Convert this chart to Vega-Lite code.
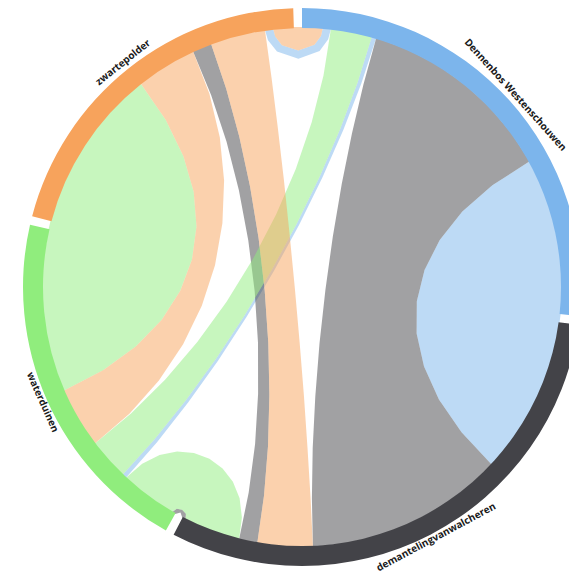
{
  "$schema": "https://vega.github.io/schema/vega-lite/v6.json",
  "width": 569,
  "height": 574,
  "padding": 0,
  "autosize": {"type": "none"},
  "background": "white",
  "config": {"view": {"stroke": null}},
  "datasets": {
    "nodes": [
      {"node": "Dennenbos Westenschouwen", "start": 0, "end": 96},
      {"node": "demantelingvanwalcheren", "start": 97.8, "end": 207.4},
      {"node": "waterduinen", "start": 209.2, "end": 282.9},
      {"node": "zwartepolder", "start": 284.7, "end": 358.2}
    ],
    "labels": [
      {"label": "Dennenbos Westenschouwen", "mid": 48, "side": "top"},
      {"label": "demantelingvanwalcheren", "mid": 151.8, "side": "bottom"},
      {"label": "waterduinen", "mid": 246.05, "side": "bottom"},
      {"label": "zwartepolder", "mid": 321.45, "side": "top"}
    ],
    "ribbons": [
      {"id": "b_d", "from": "Dennenbos Westenschouwen", "i": 0, "x": 227.6, "y": 125.7},
      {"id": "b_d", "from": "Dennenbos Westenschouwen", "i": 1, "x": 241.2, "y": 97.0},
      {"id": "b_d", "from": "Dennenbos Westenschouwen", "i": 2, "x": 251.3, "y": 66.9},
      {"id": "b_d", "from": "Dennenbos Westenschouwen", "i": 3, "x": 257.5, "y": 36.2},
      {"id": "b_d", "from": "Dennenbos Westenschouwen", "i": 4, "x": 260.0, "y": 4.5},
      {"id": "b_d", "from": "Dennenbos Westenschouwen", "i": 5, "x": 258.6, "y": -27.2},
      {"id": "b_d", "from": "Dennenbos Westenschouwen", "i": 6, "x": 257.6, "y": -35.3},
      {"id": "b_d", "from": "Dennenbos Westenschouwen", "i": 7, "x": 251.3, "y": -66.9},
      {"id": "b_d", "from": "Dennenbos Westenschouwen", "i": 8, "x": 241.2, "y": -97.0},
      {"id": "b_d", "from": "Dennenbos Westenschouwen", "i": 9, "x": 227.4, "y": -126.1},
      {"id": "b_d", "from": "Dennenbos Westenschouwen", "i": 10, "x": 210.4, "y": -152.8},
      {"id": "b_d", "from": "Dennenbos Westenschouwen", "i": 11, "x": 189.8, "y": -177.7},
      {"id": "b_d", "from": "Dennenbos Westenschouwen", "i": 12, "x": 159.5, "y": -145.3},
      {"id": "b_d", "from": "Dennenbos Westenschouwen", "i": 13, "x": 136.9, "y": -112.4},
      {"id": "b_d", "from": "Dennenbos Westenschouwen", "i": 14, "x": 122.0, "y": -79.4},
      {"id": "b_d", "from": "Dennenbos Westenschouwen", "i": 15, "x": 114.6, "y": -46.6},
      {"id": "b_d", "from": "Dennenbos Westenschouwen", "i": 16, "x": 114.8, "y": -14.3},
      {"id": "b_d", "from": "Dennenbos Westenschouwen", "i": 17, "x": 122.5, "y": 17.0},
      {"id": "b_d", "from": "Dennenbos Westenschouwen", "i": 18, "x": 137.7, "y": 47.0},
      {"id": "b_d", "from": "Dennenbos Westenschouwen", "i": 19, "x": 160.3, "y": 75.4},
      {"id": "b_d", "from": "Dennenbos Westenschouwen", "i": 20, "x": 190.3, "y": 101.7},

      {"id": "b_o", "from": "Dennenbos Westenschouwen", "i": 0, "x": 20.9, "y": 259.2},
      {"id": "b_o", "from": "Dennenbos Westenschouwen", "i": 1, "x": 29.0, "y": 258.4},
      {"id": "b_o", "from": "Dennenbos Westenschouwen", "i": 2, "x": 26.2, "y": 247.7},
      {"id": "b_o", "from": "Dennenbos Westenschouwen", "i": 3, "x": 17.6, "y": 236.0},
      {"id": "b_o", "from": "Dennenbos Westenschouwen", "i": 4, "x": -3.6, "y": 228.3},
      {"id": "b_o", "from": "Dennenbos Westenschouwen", "i": 5, "x": -25.0, "y": 235.4},
      {"id": "b_o", "from": "Dennenbos Westenschouwen", "i": 6, "x": -34.0, "y": 246.8},
      {"id": "b_o", "from": "Dennenbos Westenschouwen", "i": 7, "x": -37.1, "y": 257.3},
      {"id": "b_o", "from": "Dennenbos Westenschouwen", "i": 8, "x": -29.0, "y": 258.4},
      {"id": "b_o", "from": "Dennenbos Westenschouwen", "i": 9, "x": -26.8, "y": 250.4},
      {"id": "b_o", "from": "Dennenbos Westenschouwen", "i": 10, "x": -20.1, "y": 241.8},
      {"id": "b_o", "from": "Dennenbos Westenschouwen", "i": 11, "x": -3.7, "y": 236.4},
      {"id": "b_o", "from": "Dennenbos Westenschouwen", "i": 12, "x": 12.5, "y": 242.3},
      {"id": "b_o", "from": "Dennenbos Westenschouwen", "i": 13, "x": 19.0, "y": 251.1},

      {"id": "b_g", "from": "Dennenbos Westenschouwen", "i": 0, "x": 69.9, "y": 250.4},
      {"id": "b_g", "from": "Dennenbos Westenschouwen", "i": 1, "x": 74.3, "y": 249.2},
      {"id": "b_g", "from": "Dennenbos Westenschouwen", "i": 2, "x": 59.3, "y": 203.6},
      {"id": "b_g", "from": "Dennenbos Westenschouwen", "i": 3, "x": 41.3, "y": 157.0},
      {"id": "b_g", "from": "Dennenbos Westenschouwen", "i": 4, "x": 20.5, "y": 109.8},
      {"id": "b_g", "from": "Dennenbos Westenschouwen", "i": 5, "x": -2.7, "y": 62.6},
      {"id": "b_g", "from": "Dennenbos Westenschouwen", "i": 6, "x": -28.1, "y": 16.0},
      {"id": "b_g", "from": "Dennenbos Westenschouwen", "i": 7, "x": -55.2, "y": -29.6},
      {"id": "b_g", "from": "Dennenbos Westenschouwen", "i": 8, "x": -84.0, "y": -73.7},
      {"id": "b_g", "from": "Dennenbos Westenschouwen", "i": 9, "x": -113.9, "y": -115.6},
      {"id": "b_g", "from": "Dennenbos Westenschouwen", "i": 10, "x": -144.8, "y": -154.9},
      {"id": "b_g", "from": "Dennenbos Westenschouwen", "i": 11, "x": -176.3, "y": -191.1},
      {"id": "b_g", "from": "Dennenbos Westenschouwen", "i": 12, "x": -179.6, "y": -188.0},
      {"id": "b_g", "from": "Dennenbos Westenschouwen", "i": 13, "x": -147.6, "y": -152.4},
      {"id": "b_g", "from": "Dennenbos Westenschouwen", "i": 14, "x": -116.3, "y": -113.5},
      {"id": "b_g", "from": "Dennenbos Westenschouwen", "i": 15, "x": -86.1, "y": -71.9},
      {"id": "b_g", "from": "Dennenbos Westenschouwen", "i": 16, "x": -57.3, "y": -28.2},
      {"id": "b_g", "from": "Dennenbos Westenschouwen", "i": 17, "x": -30.2, "y": 17.2},
      {"id": "b_g", "from": "Dennenbos Westenschouwen", "i": 18, "x": -5.0, "y": 63.7},
      {"id": "b_g", "from": "Dennenbos Westenschouwen", "i": 19, "x": 17.9, "y": 110.8},
      {"id": "b_g", "from": "Dennenbos Westenschouwen", "i": 20, "x": 38.2, "y": 158.0},
      {"id": "b_g", "from": "Dennenbos Westenschouwen", "i": 21, "x": 55.7, "y": 204.7},

      {"id": "d_b", "from": "demantelingvanwalcheren", "i": 0, "x": 189.8, "y": -177.7},
      {"id": "d_b", "from": "demantelingvanwalcheren", "i": 1, "x": 165.4, "y": -200.6},
      {"id": "d_b", "from": "demantelingvanwalcheren", "i": 2, "x": 138.2, "y": -220.3},
      {"id": "d_b", "from": "demantelingvanwalcheren", "i": 3, "x": 108.2, "y": -236.4},
      {"id": "d_b", "from": "demantelingvanwalcheren", "i": 4, "x": 76.9, "y": -248.4},
      {"id": "d_b", "from": "demantelingvanwalcheren", "i": 5, "x": 44.3, "y": -256.2},
      {"id": "d_b", "from": "demantelingvanwalcheren", "i": 6, "x": 10.9, "y": -259.8},
      {"id": "d_b", "from": "demantelingvanwalcheren", "i": 7, "x": 9.9, "y": -211.7},
      {"id": "d_b", "from": "demantelingvanwalcheren", "i": 8, "x": 10.7, "y": -161.3},
      {"id": "d_b", "from": "demantelingvanwalcheren", "i": 9, "x": 13.3, "y": -109.4},
      {"id": "d_b", "from": "demantelingvanwalcheren", "i": 10, "x": 17.5, "y": -56.4},
      {"id": "d_b", "from": "demantelingvanwalcheren", "i": 11, "x": 23.4, "y": -2.9},
      {"id": "d_b", "from": "demantelingvanwalcheren", "i": 12, "x": 30.8, "y": 50.3},
      {"id": "d_b", "from": "demantelingvanwalcheren", "i": 13, "x": 39.7, "y": 102.8},
      {"id": "d_b", "from": "demantelingvanwalcheren", "i": 14, "x": 50.0, "y": 153.8},
      {"id": "d_b", "from": "demantelingvanwalcheren", "i": 15, "x": 61.5, "y": 202.8},
      {"id": "d_b", "from": "demantelingvanwalcheren", "i": 16, "x": 74.3, "y": 249.2},
      {"id": "d_b", "from": "demantelingvanwalcheren", "i": 17, "x": 105.8, "y": 237.5},
      {"id": "d_b", "from": "demantelingvanwalcheren", "i": 18, "x": 135.5, "y": 221.9},
      {"id": "d_b", "from": "demantelingvanwalcheren", "i": 19, "x": 163.3, "y": 202.3},
      {"id": "d_b", "from": "demantelingvanwalcheren", "i": 20, "x": 188.0, "y": 179.6},
      {"id": "d_b", "from": "demantelingvanwalcheren", "i": 21, "x": 209.5, "y": 153.9},
      {"id": "d_b", "from": "demantelingvanwalcheren", "i": 22, "x": 227.6, "y": 125.7},
      {"id": "d_b", "from": "demantelingvanwalcheren", "i": 23, "x": 190.3, "y": 101.7},
      {"id": "d_b", "from": "demantelingvanwalcheren", "i": 24, "x": 160.3, "y": 75.4},
      {"id": "d_b", "from": "demantelingvanwalcheren", "i": 25, "x": 137.7, "y": 47.0},
      {"id": "d_b", "from": "demantelingvanwalcheren", "i": 26, "x": 122.5, "y": 17.0},
      {"id": "d_b", "from": "demantelingvanwalcheren", "i": 27, "x": 114.8, "y": -14.3},
      {"id": "d_b", "from": "demantelingvanwalcheren", "i": 28, "x": 114.6, "y": -46.6},
      {"id": "d_b", "from": "demantelingvanwalcheren", "i": 29, "x": 122.0, "y": -79.4},
      {"id": "d_b", "from": "demantelingvanwalcheren", "i": 30, "x": 136.9, "y": -112.4},
      {"id": "d_b", "from": "demantelingvanwalcheren", "i": 31, "x": 159.5, "y": -145.3},

      {"id": "d_o", "from": "demantelingvanwalcheren", "i": 0, "x": -44.7, "y": -256.1},
      {"id": "d_o", "from": "demantelingvanwalcheren", "i": 1, "x": -62.9, "y": -252.3},
      {"id": "d_o", "from": "demantelingvanwalcheren", "i": 2, "x": -53.3, "y": -205.6},
      {"id": "d_o", "from": "demantelingvanwalcheren", "i": 3, "x": -46.9, "y": -157.0},
      {"id": "d_o", "from": "demantelingvanwalcheren", "i": 4, "x": -43.9, "y": -106.8},
      {"id": "d_o", "from": "demantelingvanwalcheren", "i": 5, "x": -44.0, "y": -55.8},
      {"id": "d_o", "from": "demantelingvanwalcheren", "i": 6, "x": -47.3, "y": -4.5},
      {"id": "d_o", "from": "demantelingvanwalcheren", "i": 7, "x": -53.7, "y": 46.6},
      {"id": "d_o", "from": "demantelingvanwalcheren", "i": 8, "x": -63.1, "y": 96.7},
      {"id": "d_o", "from": "demantelingvanwalcheren", "i": 9, "x": -75.5, "y": 145.4},
      {"id": "d_o", "from": "demantelingvanwalcheren", "i": 10, "x": -90.9, "y": 192.0},
      {"id": "d_o", "from": "demantelingvanwalcheren", "i": 11, "x": -109.1, "y": 236.0},
      {"id": "d_o", "from": "demantelingvanwalcheren", "i": 12, "x": -91.1, "y": 243.5},
      {"id": "d_o", "from": "demantelingvanwalcheren", "i": 13, "x": -75.8, "y": 198.2},
      {"id": "d_o", "from": "demantelingvanwalcheren", "i": 14, "x": -62.7, "y": 150.2},
      {"id": "d_o", "from": "demantelingvanwalcheren", "i": 15, "x": -51.9, "y": 100.2},
      {"id": "d_o", "from": "demantelingvanwalcheren", "i": 16, "x": -43.4, "y": 48.8},
      {"id": "d_o", "from": "demantelingvanwalcheren", "i": 17, "x": -37.3, "y": -3.5},
      {"id": "d_o", "from": "demantelingvanwalcheren", "i": 18, "x": -33.7, "y": -55.9},
      {"id": "d_o", "from": "demantelingvanwalcheren", "i": 19, "x": -32.6, "y": -108.0},
      {"id": "d_o", "from": "demantelingvanwalcheren", "i": 20, "x": -34.0, "y": -159.2},
      {"id": "d_o", "from": "demantelingvanwalcheren", "i": 21, "x": -38.0, "y": -208.7},

      {"id": "d_g", "from": "demantelingvanwalcheren", "i": 0, "x": -116.4, "y": -232.5},
      {"id": "d_g", "from": "demantelingvanwalcheren", "i": 1, "x": -119.7, "y": -230.8},
      {"id": "d_g", "from": "demantelingvanwalcheren", "i": 2, "x": -121.5, "y": -225.6},
      {"id": "d_g", "from": "demantelingvanwalcheren", "i": 3, "x": -126.8, "y": -227.0},
      {"id": "d_g", "from": "demantelingvanwalcheren", "i": 4, "x": -130.0, "y": -225.2},
      {"id": "d_g", "from": "demantelingvanwalcheren", "i": 5, "x": -125.3, "y": -221.8},
      {"id": "d_g", "from": "demantelingvanwalcheren", "i": 6, "x": -119.9, "y": -222.7},
      {"id": "d_g", "from": "demantelingvanwalcheren", "i": 7, "x": -116.1, "y": -226.7},

      {"id": "g_d", "from": "waterduinen", "i": 0, "x": -130.0, "y": -225.2},
      {"id": "g_d", "from": "waterduinen", "i": 1, "x": -154.1, "y": -209.4},
      {"id": "g_d", "from": "waterduinen", "i": 2, "x": -176.3, "y": -191.1},
      {"id": "g_d", "from": "waterduinen", "i": 3, "x": -159.8, "y": -176.8},
      {"id": "g_d", "from": "waterduinen", "i": 4, "x": -142.4, "y": -168.1},
      {"id": "g_d", "from": "waterduinen", "i": 5, "x": -124.9, "y": -164.6},
      {"id": "g_d", "from": "waterduinen", "i": 6, "x": -108.1, "y": -166.0},
      {"id": "g_d", "from": "waterduinen", "i": 7, "x": -92.6, "y": -171.7},
      {"id": "g_d", "from": "waterduinen", "i": 8, "x": -79.4, "y": -181.4},
      {"id": "g_d", "from": "waterduinen", "i": 9, "x": -69.1, "y": -194.8},
      {"id": "g_d", "from": "waterduinen", "i": 10, "x": -62.4, "y": -211.3},
      {"id": "g_d", "from": "waterduinen", "i": 11, "x": -60.1, "y": -230.6},
      {"id": "g_d", "from": "waterduinen", "i": 12, "x": -62.9, "y": -252.3},
      {"id": "g_d", "from": "waterduinen", "i": 13, "x": -90.2, "y": -243.9},
      {"id": "g_d", "from": "waterduinen", "i": 14, "x": -116.4, "y": -232.5},
      {"id": "g_d", "from": "waterduinen", "i": 15, "x": -116.1, "y": -226.7},
      {"id": "g_d", "from": "waterduinen", "i": 16, "x": -119.9, "y": -222.7},
      {"id": "g_d", "from": "waterduinen", "i": 17, "x": -125.3, "y": -221.8},

      {"id": "g_o", "from": "waterduinen", "i": 0, "x": -238.4, "y": -103.7},
      {"id": "g_o", "from": "waterduinen", "i": 1, "x": -249.7, "y": -72.5},
      {"id": "g_o", "from": "waterduinen", "i": 2, "x": -256.9, "y": -40.2},
      {"id": "g_o", "from": "waterduinen", "i": 3, "x": -259.9, "y": -7.7},
      {"id": "g_o", "from": "waterduinen", "i": 4, "x": -258.8, "y": 25.4},
      {"id": "g_o", "from": "waterduinen", "i": 5, "x": -253.4, "y": 58.1},
      {"id": "g_o", "from": "waterduinen", "i": 6, "x": -251.5, "y": 66.0},
      {"id": "g_o", "from": "waterduinen", "i": 7, "x": -240.9, "y": 97.8},
      {"id": "g_o", "from": "waterduinen", "i": 8, "x": -226.3, "y": 128.0},
      {"id": "g_o", "from": "waterduinen", "i": 9, "x": -208.2, "y": 155.8},
      {"id": "g_o", "from": "waterduinen", "i": 10, "x": -186.4, "y": 181.3},
      {"id": "g_o", "from": "waterduinen", "i": 11, "x": -161.5, "y": 203.8},
      {"id": "g_o", "from": "waterduinen", "i": 12, "x": -136.2, "y": 167.1},
      {"id": "g_o", "from": "waterduinen", "i": 13, "x": -118.6, "y": 130.8},
      {"id": "g_o", "from": "waterduinen", "i": 14, "x": -108.3, "y": 95.2},
      {"id": "g_o", "from": "waterduinen", "i": 15, "x": -105.5, "y": 60.6},
      {"id": "g_o", "from": "waterduinen", "i": 16, "x": -110.0, "y": 27.5},
      {"id": "g_o", "from": "waterduinen", "i": 17, "x": -121.7, "y": -3.8},
      {"id": "g_o", "from": "waterduinen", "i": 18, "x": -140.4, "y": -32.9},
      {"id": "g_o", "from": "waterduinen", "i": 19, "x": -166.2, "y": -59.6},
      {"id": "g_o", "from": "waterduinen", "i": 20, "x": -198.9, "y": -83.3},

      {"id": "g_b", "from": "waterduinen", "i": 0, "x": -179.6, "y": -188.0},
      {"id": "g_b", "from": "waterduinen", "i": 1, "x": -194.1, "y": -173.0},
      {"id": "g_b", "from": "waterduinen", "i": 2, "x": -207.4, "y": -156.8},
      {"id": "g_b", "from": "waterduinen", "i": 3, "x": -171.0, "y": -126.5},
      {"id": "g_b", "from": "waterduinen", "i": 4, "x": -136.7, "y": -92.4},
      {"id": "g_b", "from": "waterduinen", "i": 5, "x": -104.7, "y": -55.0},
      {"id": "g_b", "from": "waterduinen", "i": 6, "x": -75.4, "y": -14.7},
      {"id": "g_b", "from": "waterduinen", "i": 7, "x": -49.1, "y": 27.9},
      {"id": "g_b", "from": "waterduinen", "i": 8, "x": -25.9, "y": 72.4},
      {"id": "g_b", "from": "waterduinen", "i": 9, "x": -6.2, "y": 118.1},
      {"id": "g_b", "from": "waterduinen", "i": 10, "x": 9.7, "y": 164.7},
      {"id": "g_b", "from": "waterduinen", "i": 11, "x": 21.5, "y": 211.6},
      {"id": "g_b", "from": "waterduinen", "i": 12, "x": 29.0, "y": 258.4},
      {"id": "g_b", "from": "waterduinen", "i": 13, "x": 49.6, "y": 255.2},
      {"id": "g_b", "from": "waterduinen", "i": 14, "x": 69.9, "y": 250.4},
      {"id": "g_b", "from": "waterduinen", "i": 15, "x": 55.7, "y": 204.7},
      {"id": "g_b", "from": "waterduinen", "i": 16, "x": 38.2, "y": 158.0},
      {"id": "g_b", "from": "waterduinen", "i": 17, "x": 17.9, "y": 110.8},
      {"id": "g_b", "from": "waterduinen", "i": 18, "x": -5.0, "y": 63.7},
      {"id": "g_b", "from": "waterduinen", "i": 19, "x": -30.2, "y": 17.2},
      {"id": "g_b", "from": "waterduinen", "i": 20, "x": -57.3, "y": -28.2},
      {"id": "g_b", "from": "waterduinen", "i": 21, "x": -86.1, "y": -71.9},
      {"id": "g_b", "from": "waterduinen", "i": 22, "x": -116.3, "y": -113.5},
      {"id": "g_b", "from": "waterduinen", "i": 23, "x": -147.6, "y": -152.4},

      {"id": "o_b", "from": "zwartepolder", "i": 0, "x": -29.0, "y": 258.4},
      {"id": "o_b", "from": "zwartepolder", "i": 1, "x": -8.2, "y": 259.9},
      {"id": "o_b", "from": "zwartepolder", "i": 2, "x": 0, "y": 260},
      {"id": "o_b", "from": "zwartepolder", "i": 3, "x": 20.9, "y": 259.2},
      {"id": "o_b", "from": "zwartepolder", "i": 4, "x": 19.0, "y": 251.1},
      {"id": "o_b", "from": "zwartepolder", "i": 5, "x": 12.5, "y": 242.3},
      {"id": "o_b", "from": "zwartepolder", "i": 6, "x": -3.7, "y": 236.4},
      {"id": "o_b", "from": "zwartepolder", "i": 7, "x": -20.1, "y": 241.8},
      {"id": "o_b", "from": "zwartepolder", "i": 8, "x": -26.8, "y": 250.4},

      {"id": "o_d", "from": "zwartepolder", "i": 0, "x": -91.1, "y": 243.5},
      {"id": "o_d", "from": "zwartepolder", "i": 1, "x": -64.4, "y": 251.9},
      {"id": "o_d", "from": "zwartepolder", "i": 2, "x": -37.1, "y": 257.3},
      {"id": "o_d", "from": "zwartepolder", "i": 3, "x": -30.5, "y": 209.5},
      {"id": "o_d", "from": "zwartepolder", "i": 4, "x": -24.2, "y": 159.2},
      {"id": "o_d", "from": "zwartepolder", "i": 5, "x": -18.1, "y": 107.0},
      {"id": "o_d", "from": "zwartepolder", "i": 6, "x": -12.5, "y": 53.5},
      {"id": "o_d", "from": "zwartepolder", "i": 7, "x": -7.2, "y": -0.7},
      {"id": "o_d", "from": "zwartepolder", "i": 8, "x": -2.4, "y": -54.9},
      {"id": "o_d", "from": "zwartepolder", "i": 9, "x": 1.9, "y": -108.5},
      {"id": "o_d", "from": "zwartepolder", "i": 10, "x": 5.5, "y": -161.0},
      {"id": "o_d", "from": "zwartepolder", "i": 11, "x": 8.6, "y": -211.6},
      {"id": "o_d", "from": "zwartepolder", "i": 12, "x": 10.9, "y": -259.8},
      {"id": "o_d", "from": "zwartepolder", "i": 13, "x": -17.0, "y": -259.4},
      {"id": "o_d", "from": "zwartepolder", "i": 14, "x": -44.7, "y": -256.1},
      {"id": "o_d", "from": "zwartepolder", "i": 15, "x": -38.0, "y": -208.7},
      {"id": "o_d", "from": "zwartepolder", "i": 16, "x": -34.0, "y": -159.2},
      {"id": "o_d", "from": "zwartepolder", "i": 17, "x": -32.6, "y": -108.0},
      {"id": "o_d", "from": "zwartepolder", "i": 18, "x": -33.7, "y": -55.9},
      {"id": "o_d", "from": "zwartepolder", "i": 19, "x": -37.3, "y": -3.5},
      {"id": "o_d", "from": "zwartepolder", "i": 20, "x": -43.4, "y": 48.8},
      {"id": "o_d", "from": "zwartepolder", "i": 21, "x": -51.9, "y": 100.2},
      {"id": "o_d", "from": "zwartepolder", "i": 22, "x": -62.7, "y": 150.2},
      {"id": "o_d", "from": "zwartepolder", "i": 23, "x": -75.8, "y": 198.2},

      {"id": "o_g", "from": "zwartepolder", "i": 0, "x": -161.5, "y": 203.8},
      {"id": "o_g", "from": "zwartepolder", "i": 1, "x": -136.2, "y": 221.5},
      {"id": "o_g", "from": "zwartepolder", "i": 2, "x": -109.1, "y": 236.0},
      {"id": "o_g", "from": "zwartepolder", "i": 3, "x": -92.6, "y": 193.2},
      {"id": "o_g", "from": "zwartepolder", "i": 4, "x": -82.2, "y": 149.8},
      {"id": "o_g", "from": "zwartepolder", "i": 5, "x": -77.9, "y": 106.5},
      {"id": "o_g", "from": "zwartepolder", "i": 6, "x": -79.6, "y": 63.7},
      {"id": "o_g", "from": "zwartepolder", "i": 7, "x": -87.0, "y": 21.8},
      {"id": "o_g", "from": "zwartepolder", "i": 8, "x": -100.2, "y": -18.7},
      {"id": "o_g", "from": "zwartepolder", "i": 9, "x": -118.9, "y": -57.2},
      {"id": "o_g", "from": "zwartepolder", "i": 10, "x": -143.1, "y": -93.4},
      {"id": "o_g", "from": "zwartepolder", "i": 11, "x": -172.6, "y": -126.8},
      {"id": "o_g", "from": "zwartepolder", "i": 12, "x": -207.4, "y": -156.8},
      {"id": "o_g", "from": "zwartepolder", "i": 13, "x": -224.5, "y": -131.2},
      {"id": "o_g", "from": "zwartepolder", "i": 14, "x": -238.4, "y": -103.7},
      {"id": "o_g", "from": "zwartepolder", "i": 15, "x": -198.9, "y": -83.3},
      {"id": "o_g", "from": "zwartepolder", "i": 16, "x": -166.2, "y": -59.6},
      {"id": "o_g", "from": "zwartepolder", "i": 17, "x": -140.4, "y": -32.9},
      {"id": "o_g", "from": "zwartepolder", "i": 18, "x": -121.7, "y": -3.8},
      {"id": "o_g", "from": "zwartepolder", "i": 19, "x": -110.0, "y": 27.5},
      {"id": "o_g", "from": "zwartepolder", "i": 20, "x": -105.5, "y": 60.6},
      {"id": "o_g", "from": "zwartepolder", "i": 21, "x": -108.3, "y": 95.2},
      {"id": "o_g", "from": "zwartepolder", "i": 22, "x": -118.6, "y": 130.8},
      {"id": "o_g", "from": "zwartepolder", "i": 23, "x": -136.2, "y": 167.1}
    ]
  },
  "layer": [
    {
      "data": {"name": "ribbons"},
      "mark": {"type": "line", "filled": true, "fillOpacity": 0.5, "strokeWidth": 0},
      "encoding": {
        "x": {"field": "x", "type": "quantitative", "scale": {"domain": [-302, 267], "nice": false, "zero": false}, "axis": null},
        "y": {"field": "y", "type": "quantitative", "scale": {"domain": [-287, 287], "nice": false, "zero": false}, "axis": null},
        "order": {"field": "i", "type": "quantitative"},
        "detail": {"field": "id", "type": "nominal"},
        "color": {
          "field": "from", "type": "nominal", "legend": null,
          "scale": {"domain": ["Dennenbos Westenschouwen", "demantelingvanwalcheren", "waterduinen", "zwartepolder"], "range": ["#7cb5ec", "#434348", "#90ed7d", "#f7a35c"]}
        }
      }
    },
    {
      "data": {"name": "nodes"},
      "mark": {"type": "arc", "radius": 279, "radius2": 259},
      "encoding": {
        "x": {"datum": 0, "type": "quantitative"},
        "y": {"datum": 0, "type": "quantitative"},
        "theta": {"field": "start", "type": "quantitative", "stack": null, "scale": {"type": "linear", "domain": [0, 360], "range": [0, 6.283185307179586], "nice": false, "zero": false}},
        "theta2": {"field": "end"},
        "color": {"field": "node", "type": "nominal", "legend": null}
      }
    },
    {
      "data": {"name": "labels"},
      "transform": [{"filter": "datum.side == 'top'"}],
      "mark": {"type": "text", "radius": 287, "font": "Open Sans", "fontWeight": "bold", "fontSize": 10, "color": "#1a1a1a", "align": "center", "baseline": "middle"},
      "encoding": {
        "x": {"datum": 0, "type": "quantitative"},
        "y": {"datum": 0, "type": "quantitative"},
        "theta": {"field": "mid", "type": "quantitative", "stack": null},
        "angle": {"field": "mid", "type": "quantitative", "scale": null},
        "text": {"field": "label", "type": "nominal"}
      }
    },
    {
      "data": {"name": "labels"},
      "transform": [{"filter": "datum.side == 'bottom'"}],
      "mark": {"type": "text", "radius": 284, "font": "Open Sans", "fontWeight": "bold", "fontSize": 10, "color": "#1a1a1a", "align": "center", "baseline": "middle"},
      "encoding": {
        "x": {"datum": 0, "type": "quantitative"},
        "y": {"datum": 0, "type": "quantitative"},
        "theta": {"field": "mid", "type": "quantitative", "stack": null},
        "angle": {"field": "mid", "type": "quantitative", "scale": {"domain": [0, 360], "range": [-180, 180]}},
        "text": {"field": "label", "type": "nominal"}
      }
    }
  ]
}
